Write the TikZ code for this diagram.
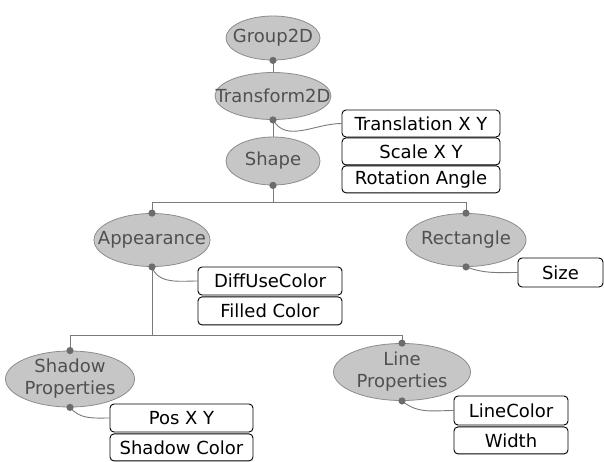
\documentclass[tikz,border=0pt]{standalone}
\usepackage{fontspec}
\setmainfont{DejaVu Sans}
\usetikzlibrary{shapes.geometric, positioning}
\definecolor{ellfill}{HTML}{C6C6C6}
\definecolor{elldraw}{HTML}{8C8C8C}
\definecolor{elltext}{HTML}{505050}
\definecolor{linkc}{HTML}{7A7A7A}
\definecolor{dotc}{HTML}{6C6C6C}
\tikzset{%
  bigfont/.style={font=\fontsize{18}{22}\selectfont},
  ell/.style={ellipse, draw=elldraw, fill=ellfill, line width=0.8pt, inner sep=0pt,
              label={[bigfont, text=elltext, align=center]center:#1}},
  field/.style={draw, rounded corners=4pt, line width=0.9pt, fill=white, inner sep=0pt, bigfont},
  link/.style={draw=linkc, line width=0.9pt},
  dot/.style={fill=dotc},
}

\begin{document}
\begin{tikzpicture}[x=1pt, y=-1pt]
    \useasboundingbox (0,0) rectangle (604,461);

    %scene graph nodes
    \node[ell=Group2D, minimum width=94pt, minimum height=44pt] (gr) at (273,38) {};
    \node[ell=Transform2D, minimum width=116pt, minimum height=47pt] (tr) at (273,96) {};
    \node[ell=Shape, minimum width=94pt, minimum height=48pt] (sh) at (273,161) {};
    \node[ell=Appearance, minimum width=116pt, minimum height=53pt] (ap) at (152,240) {};
    \node[ell=Rectangle, minimum width=120pt, minimum height=53pt] (re) at (466,240) {};
    \node[ell={Shadow\\Properties}, minimum width=129pt, minimum height=56pt] (sp) at (70,379) {};
    \node[ell={Line\\Properties}, minimum width=137pt, minimum height=57pt] (lp) at (402,372) {};

    %fields
    \node[field, minimum width=158pt, minimum height=27pt] (tx) at (421,123.5) {Translation X Y};
    \node[field, minimum width=158pt, minimum height=27pt, below=0pt of tx] (sc) {Scale X Y};
    \node[field, minimum width=158pt, minimum height=27pt, below=0pt of sc] (ro) {Rotation Angle};
    \node[field, minimum width=144pt, minimum height=28pt] (df) at (270,281) {DiffUseColor};
    \node[field, minimum width=144pt, minimum height=28pt, below=1pt of df] (fc) {Filled Color};
    \node[field, minimum width=85pt, minimum height=29pt] (sz) at (560.5,272.5) {Size};
    \node[field, minimum width=143pt, minimum height=28pt] (ps) at (181.5,418) {Pos X Y};
    \node[field, minimum width=143pt, minimum height=27pt, below=1pt of ps] (sd) {Shadow Color};
    \node[field, minimum width=114pt, minimum height=29pt] (lc) at (511,410.5) {LineColor};
    \node[field, minimum width=114pt, minimum height=27pt, below=1pt of lc] (wd) {Width};

    %tree lines
    \draw[link] (gr.south) -- (tr.north);
    \draw[link] (tr.south) -- (sh.north);
    \draw[link] (sh.south) -- ++(0,17) -| (ap.north);
    \draw[link] (sh.south) -- ++(0,17) -| (re.north);
    \draw[link] (ap.south) -- ++(0,68.5) -| (sp.north);
    \draw[link] (ap.south) -- ++(0,68.5) -| (lp.north);

    %field links
    \draw[link] (tr.south) to[out=-60, in=180] (tx.west);
    \draw[link] (ap.south) to[out=-70, in=180] (df.west);
    \draw[link] (re.south) to[out=-20, in=180] (sz.west);
    \draw[link] (sp.south) to[out=-50, in=180] (ps.west);
    \draw[link] (lp.south) to[out=-40, in=180] (lc.west);

    %dots
    \foreach \n in {gr,tr,sh,ap,re,sp,lp}
        \fill[dot] (\n.south) circle (3.6);
    \foreach \n in {ap,re,sp,lp}
        \fill[dot] (\n.north) circle (3.6);
\end{tikzpicture}
\end{document}
